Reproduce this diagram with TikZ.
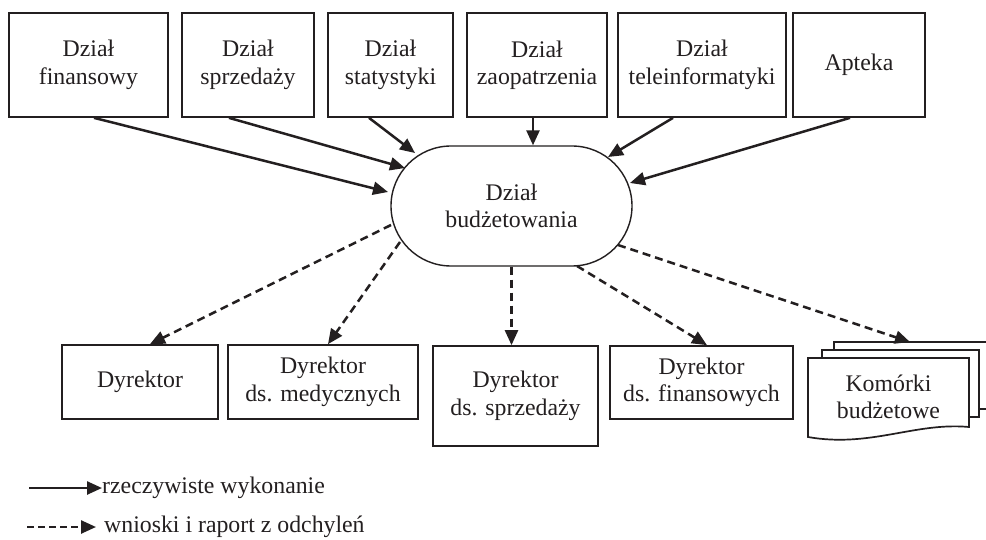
\documentclass[tikz,border=0pt]{standalone}
\usepackage{fontspec}
\setmainfont{Liberation Serif}
\usetikzlibrary{arrows.meta,calc}
\definecolor{ink}{RGB}{35,31,32}
\tikzset{
  box/.style={draw=ink, line width=1.7pt, fill=white, inner sep=0pt, align=center,
              font=\fontsize{23.8}{27.4}\selectfont, text=ink},
  txt/.style={inner sep=0pt, align=center, font=\fontsize{23.8}{27.4}\selectfont, text=ink},
  arr/.style={draw=ink, line width=2.5pt, -{Triangle[length=15pt,width=13pt]}},
  darr/.style={arr, dash pattern=on 8pt off 5pt},
  sheet/.style={draw=ink, line width=1.7pt, fill=white},
}
\begin{document}
\begin{tikzpicture}[x=1pt,y=-1pt]
\clip (0,0) rectangle (986,540);
\fill[white] (0,0) rectangle (986,540);

% top boxes
\node[box, minimum width=159, minimum height=104] (b1) at (88.5,65) {Dział\\finansowy};
\node[box, minimum width=132, minimum height=104] (b2) at (248,65) {Dział\\sprzedaży};
\node[box, minimum width=125, minimum height=104] (b3) at (390.5,65) {Dział\\statystyki};
\node[box, minimum width=140, minimum height=104] (b4) at (537,65) {Dział\\zaopatrzenia};
\node[box, minimum width=168, minimum height=104] (b5) at (702,65) {Dział\\teleinformatyki};
\node[box, minimum width=132, minimum height=104] (b6) at (859,65) {Apteka};

% central stadium
\node[box, line width=1.4pt, rounded corners=60, minimum width=241, minimum height=120] (bud) at (511.5,206) {Dział\\budżetowania};

% bottom boxes
\node[box, minimum width=156, minimum height=74] (dyr) at (140,382) {Dyrektor};
\node[box, minimum width=190, minimum height=74] (dm) at (323,382) {Dyrektor\\ds. medycznych};
\node[box, minimum width=165, minimum height=100] (ds) at (515.5,396) {Dyrektor\\ds. sprzedaży};
\node[box, minimum width=183, minimum height=73] (df) at (701.5,382.5) {Dyrektor\\ds. finansowych};

% stacked documents
\draw[sheet] (834,409) -- (834,342) -- (1000,342) -- (1000,409) -- cycle;
\draw[sheet] (822,350) rectangle (979,417);
\draw[sheet] (808,358) -- (969,358) -- (969,427)
   .. controls (915,422) and (870,448) .. (808,437) -- cycle;
\node[txt] (kom) at (888.5,397) {Komórki\\budżetowe};
\coordinate (stack) at (910,342);

% solid arrows
\draw[arr] ([xshift=5.5]b1.south) -- ([shift={(-123.5,-14)}]bud.center);
\draw[arr] ([xshift=-19]b2.south) -- ([shift={(-106.5,-38)}]bud.center);
\draw[arr] ([xshift=-21.5]b3.south) -- ([shift={(-96.5,-53)}]bud.center);
\draw[arr] ([xshift=-4]b4.south) -- ([xshift=21.5]bud.north);
\draw[arr] ([xshift=-29]b5.south) -- ([shift={(96.5,-49)}]bud.center);
\draw[arr] ([xshift=-9]b6.south) -- ([shift={(118.5,-23)}]bud.center);

% dashed arrows
\draw[darr] ([shift={(-120.5,19)}]bud.center) -- ([xshift=10]dyr.north);
\draw[darr] ([shift={(-111.5,36)}]bud.center) -- ([xshift=5]dm.north);
\draw[darr] (bud.south) -- (bud.south |- ds.north);
\draw[darr] ([shift={(65.5,60)}]bud.center) -- ([xshift=5.5]df.north);
\draw[darr] ([shift={(106.5,39)}]bud.center) -- (stack);

% legend
\coordinate (l1a) at (29,488);
\coordinate (l2a) at (27,527);
\node[txt, anchor=west] (lt1) at (102,488) {rzeczywiste wykonanie};
\node[txt, anchor=west] (lt2) at (104,527) {wnioski i raport z odchyleń};
\draw[arr] (l1a) -- (lt1.west);
\draw[arr, dash pattern=on 7pt off 4pt] (l2a) -- ([xshift=-8]lt2.west);
\end{tikzpicture}
\end{document}
